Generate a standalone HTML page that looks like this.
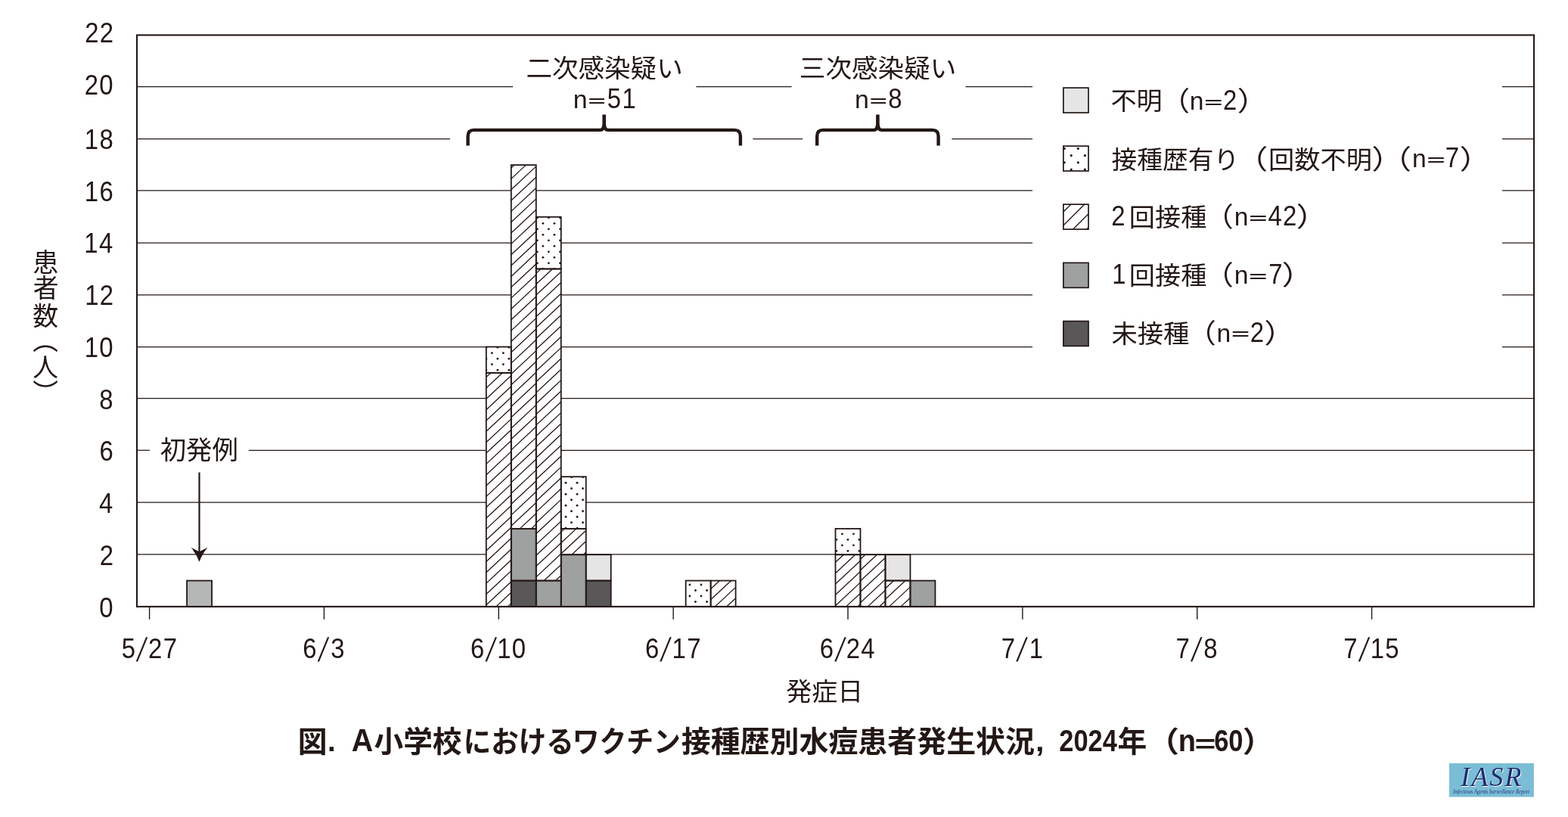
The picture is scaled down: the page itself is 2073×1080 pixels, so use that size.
<!DOCTYPE html>
<html lang="ja"><head><meta charset="utf-8"><title>図. A小学校におけるワクチン接種歴別水痘患者発生状況, 2024年</title>
<style>html,body{margin:0;padding:0;background:#fff}svg{display:block}text{font-family:"Liberation Sans","Noto Sans CJK JP",sans-serif;fill:#231815}.l{font-family:"Liberation Sans",sans-serif}</style></head><body>
<svg width="2073" height="1080" viewBox="0 0 2073 1080">
<rect width="2073" height="1080" fill="#fff"/>
<g id="grid" stroke="#231815" stroke-width="1.25">
<line x1="181.0" y1="114.60" x2="678.1" y2="114.60"/>
<line x1="920.3" y1="114.60" x2="1046.6" y2="114.60"/>
<line x1="1276.6" y1="114.60" x2="1365.0" y2="114.60"/>
<line x1="1986.0" y1="114.60" x2="2028.0" y2="114.60"/>
<line x1="181.0" y1="183.50" x2="595.0" y2="183.50"/>
<line x1="995.4" y1="183.50" x2="1061.0" y2="183.50"/>
<line x1="1258.4" y1="183.50" x2="1365.0" y2="183.50"/>
<line x1="1986.0" y1="183.50" x2="2028.0" y2="183.50"/>
<line x1="181.0" y1="251.90" x2="1365.0" y2="251.90"/>
<line x1="1986.0" y1="251.90" x2="2028.0" y2="251.90"/>
<line x1="181.0" y1="321.00" x2="1365.0" y2="321.00"/>
<line x1="1986.0" y1="321.00" x2="2028.0" y2="321.00"/>
<line x1="181.0" y1="389.75" x2="1365.0" y2="389.75"/>
<line x1="1986.0" y1="389.75" x2="2028.0" y2="389.75"/>
<line x1="181.0" y1="458.50" x2="1365.0" y2="458.50"/>
<line x1="1986.0" y1="458.50" x2="2028.0" y2="458.50"/>
<line x1="181.0" y1="526.60" x2="2028.0" y2="526.60"/>
<line x1="181.0" y1="595.25" x2="198.0" y2="595.25"/>
<line x1="328.8" y1="595.25" x2="2028.0" y2="595.25"/>
<line x1="181.0" y1="664.00" x2="2028.0" y2="664.00"/>
<line x1="181.0" y1="732.75" x2="2028.0" y2="732.75"/>
</g>
<g id="bars">
<rect x="247.07" y="767.56" width="32.98" height="34.34" fill="#b5b6b6"/>
<rect x="642.81" y="492.84" width="32.98" height="309.06" fill="#fff"/>
<rect x="642.81" y="458.50" width="32.98" height="34.34" fill="#fff"/>
<clipPath id="c1"><rect x="642.81" y="458.50" width="32.98" height="34.34"/></clipPath><g clip-path="url(#c1)" fill="#231815"><circle cx="650.35" cy="466.70" r="1.4"/><circle cx="650.35" cy="481.70" r="1.4"/><circle cx="665.40" cy="466.70" r="1.4"/><circle cx="665.40" cy="481.70" r="1.4"/><circle cx="642.83" cy="459.20" r="1.4"/><circle cx="642.83" cy="474.20" r="1.4"/><circle cx="642.83" cy="489.20" r="1.4"/><circle cx="657.88" cy="459.20" r="1.4"/><circle cx="657.88" cy="474.20" r="1.4"/><circle cx="657.88" cy="489.20" r="1.4"/><circle cx="672.92" cy="459.20" r="1.4"/><circle cx="672.92" cy="474.20" r="1.4"/><circle cx="672.92" cy="489.20" r="1.4"/></g>
<rect x="675.79" y="767.56" width="32.98" height="34.34" fill="#595757"/>
<rect x="675.79" y="698.88" width="32.98" height="68.68" fill="#9fa0a0"/>
<rect x="675.79" y="218.12" width="32.98" height="480.76" fill="#fff"/>
<rect x="708.77" y="767.56" width="32.98" height="34.34" fill="#9fa0a0"/>
<rect x="708.77" y="355.48" width="32.98" height="412.08" fill="#fff"/>
<rect x="708.77" y="286.80" width="32.98" height="68.68" fill="#fff"/>
<clipPath id="c2"><rect x="708.77" y="286.80" width="32.98" height="68.68"/></clipPath><g clip-path="url(#c2)" fill="#231815"><circle cx="710.35" cy="287.80" r="1.4"/><circle cx="710.35" cy="302.80" r="1.4"/><circle cx="710.35" cy="317.80" r="1.4"/><circle cx="710.35" cy="332.80" r="1.4"/><circle cx="710.35" cy="347.80" r="1.4"/><circle cx="725.40" cy="287.80" r="1.4"/><circle cx="725.40" cy="302.80" r="1.4"/><circle cx="725.40" cy="317.80" r="1.4"/><circle cx="725.40" cy="332.80" r="1.4"/><circle cx="725.40" cy="347.80" r="1.4"/><circle cx="740.45" cy="287.80" r="1.4"/><circle cx="740.45" cy="302.80" r="1.4"/><circle cx="740.45" cy="317.80" r="1.4"/><circle cx="740.45" cy="332.80" r="1.4"/><circle cx="740.45" cy="347.80" r="1.4"/><circle cx="717.88" cy="295.30" r="1.4"/><circle cx="717.88" cy="310.30" r="1.4"/><circle cx="717.88" cy="325.30" r="1.4"/><circle cx="717.88" cy="340.30" r="1.4"/><circle cx="717.88" cy="355.30" r="1.4"/><circle cx="732.92" cy="295.30" r="1.4"/><circle cx="732.92" cy="310.30" r="1.4"/><circle cx="732.92" cy="325.30" r="1.4"/><circle cx="732.92" cy="340.30" r="1.4"/><circle cx="732.92" cy="355.30" r="1.4"/></g>
<rect x="741.75" y="733.22" width="32.98" height="68.68" fill="#9fa0a0"/>
<rect x="741.75" y="698.88" width="32.98" height="34.34" fill="#fff"/>
<rect x="741.75" y="630.20" width="32.98" height="68.68" fill="#fff"/>
<clipPath id="c3"><rect x="741.75" y="630.20" width="32.98" height="68.68"/></clipPath><g clip-path="url(#c3)" fill="#231815"><circle cx="748.00" cy="638.25" r="1.4"/><circle cx="748.00" cy="653.25" r="1.4"/><circle cx="748.00" cy="668.25" r="1.4"/><circle cx="748.00" cy="683.25" r="1.4"/><circle cx="748.00" cy="698.25" r="1.4"/><circle cx="763.05" cy="638.25" r="1.4"/><circle cx="763.05" cy="653.25" r="1.4"/><circle cx="763.05" cy="668.25" r="1.4"/><circle cx="763.05" cy="683.25" r="1.4"/><circle cx="763.05" cy="698.25" r="1.4"/><circle cx="740.48" cy="630.75" r="1.4"/><circle cx="740.48" cy="645.75" r="1.4"/><circle cx="740.48" cy="660.75" r="1.4"/><circle cx="740.48" cy="675.75" r="1.4"/><circle cx="740.48" cy="690.75" r="1.4"/><circle cx="755.52" cy="630.75" r="1.4"/><circle cx="755.52" cy="645.75" r="1.4"/><circle cx="755.52" cy="660.75" r="1.4"/><circle cx="755.52" cy="675.75" r="1.4"/><circle cx="755.52" cy="690.75" r="1.4"/><circle cx="770.57" cy="630.75" r="1.4"/><circle cx="770.57" cy="645.75" r="1.4"/><circle cx="770.57" cy="660.75" r="1.4"/><circle cx="770.57" cy="675.75" r="1.4"/><circle cx="770.57" cy="690.75" r="1.4"/></g>
<rect x="774.73" y="767.56" width="32.98" height="34.34" fill="#595757"/>
<rect x="774.73" y="733.22" width="32.98" height="34.34" fill="#e5e5e5"/>
<rect x="906.64" y="767.56" width="32.98" height="34.34" fill="#fff"/>
<clipPath id="c4"><rect x="906.64" y="767.56" width="32.98" height="34.34"/></clipPath><g clip-path="url(#c4)" fill="#231815"><circle cx="911.94" cy="773.00" r="1.4"/><circle cx="911.94" cy="788.00" r="1.4"/><circle cx="911.94" cy="803.00" r="1.4"/><circle cx="926.99" cy="773.00" r="1.4"/><circle cx="926.99" cy="788.00" r="1.4"/><circle cx="926.99" cy="803.00" r="1.4"/><circle cx="919.47" cy="780.50" r="1.4"/><circle cx="919.47" cy="795.50" r="1.4"/><circle cx="934.51" cy="780.50" r="1.4"/><circle cx="934.51" cy="795.50" r="1.4"/></g>
<rect x="939.62" y="767.56" width="32.98" height="34.34" fill="#fff"/>
<rect x="1104.51" y="733.22" width="32.98" height="68.68" fill="#fff"/>
<rect x="1104.51" y="698.88" width="32.98" height="34.34" fill="#fff"/>
<clipPath id="c5"><rect x="1104.51" y="698.88" width="32.98" height="34.34"/></clipPath><g clip-path="url(#c5)" fill="#231815"><circle cx="1113.40" cy="705.80" r="1.4"/><circle cx="1113.40" cy="720.80" r="1.4"/><circle cx="1128.45" cy="705.80" r="1.4"/><circle cx="1128.45" cy="720.80" r="1.4"/><circle cx="1105.88" cy="698.30" r="1.4"/><circle cx="1105.88" cy="713.30" r="1.4"/><circle cx="1105.88" cy="728.30" r="1.4"/><circle cx="1120.93" cy="698.30" r="1.4"/><circle cx="1120.93" cy="713.30" r="1.4"/><circle cx="1120.93" cy="728.30" r="1.4"/><circle cx="1135.98" cy="698.30" r="1.4"/><circle cx="1135.98" cy="713.30" r="1.4"/><circle cx="1135.98" cy="728.30" r="1.4"/></g>
<rect x="1137.49" y="733.22" width="32.98" height="68.68" fill="#fff"/>
<rect x="1170.47" y="767.56" width="32.98" height="34.34" fill="#fff"/>
<rect x="1170.47" y="733.22" width="32.98" height="34.34" fill="#e5e5e5"/>
<rect x="1203.45" y="767.56" width="32.98" height="34.34" fill="#9fa0a0"/>
<path d="M642.81,498.64L649.01,492.84M642.81,512.98L664.35,492.84M642.81,527.32L675.79,496.49M642.81,541.66L675.79,510.83M642.81,556.00L675.79,525.17M642.81,570.34L675.79,539.51M642.81,584.68L675.79,553.85M642.81,599.02L675.79,568.19M642.81,613.36L675.79,582.53M642.81,627.70L675.79,596.87M642.81,642.04L675.79,611.21M642.81,656.38L675.79,625.55M642.81,670.72L675.79,639.89M642.81,685.06L675.79,654.23M642.81,699.40L675.79,668.57M642.81,713.74L675.79,682.91M642.81,728.08L675.79,697.25M642.81,742.42L675.79,711.59M642.81,756.76L675.79,725.93M642.81,771.10L675.79,740.27M642.81,785.44L675.79,754.61M642.81,799.78L675.79,768.95M655.88,801.90L675.79,783.29M671.22,801.90L675.79,797.63M675.79,222.02L679.96,218.12M675.79,236.36L695.30,218.12M675.79,250.70L708.77,219.87M675.79,265.04L708.77,234.21M675.79,279.38L708.77,248.55M675.79,293.72L708.77,262.89M675.79,308.06L708.77,277.23M675.79,322.40L708.77,291.57M675.79,336.74L708.77,305.91M675.79,351.08L708.77,320.25M675.79,365.42L708.77,334.59M675.79,379.76L708.77,348.93M675.79,394.10L708.77,363.27M675.79,408.44L708.77,377.61M675.79,422.78L708.77,391.95M675.79,437.12L708.77,406.29M675.79,451.46L708.77,420.63M675.79,465.80L708.77,434.97M675.79,480.14L708.77,449.31M675.79,494.48L708.77,463.65M675.79,508.82L708.77,477.99M675.79,523.16L708.77,492.33M675.79,537.50L708.77,506.67M675.79,551.84L708.77,521.01M675.79,566.18L708.77,535.35M675.79,580.52L708.77,549.69M675.79,594.86L708.77,564.03M675.79,609.20L708.77,578.37M675.79,623.54L708.77,592.71M675.79,637.88L708.77,607.05M675.79,652.22L708.77,621.39M675.79,666.56L708.77,635.73M675.79,680.90L708.77,650.07M675.79,695.24L708.77,664.41M687.23,698.88L708.77,678.75M702.57,698.88L708.77,693.09M708.77,361.38L715.08,355.48M708.77,375.72L730.41,355.48M708.77,390.06L741.75,359.23M708.77,404.40L741.75,373.57M708.77,418.74L741.75,387.91M708.77,433.08L741.75,402.25M708.77,447.42L741.75,416.59M708.77,461.76L741.75,430.93M708.77,476.10L741.75,445.27M708.77,490.44L741.75,459.61M708.77,504.78L741.75,473.95M708.77,519.12L741.75,488.29M708.77,533.46L741.75,502.63M708.77,547.80L741.75,516.97M708.77,562.14L741.75,531.31M708.77,576.48L741.75,545.65M708.77,590.82L741.75,559.99M708.77,605.16L741.75,574.33M708.77,619.50L741.75,588.67M708.77,633.84L741.75,603.01M708.77,648.18L741.75,617.35M708.77,662.52L741.75,631.69M708.77,676.86L741.75,646.03M708.77,691.20L741.75,660.37M708.77,705.54L741.75,674.71M708.77,719.88L741.75,689.05M708.77,734.22L741.75,703.39M708.77,748.56L741.75,717.73M708.77,762.90L741.75,732.07M719.12,767.56L741.75,746.41M734.46,767.56L741.75,760.75M741.75,703.36L746.54,698.88M741.75,717.70L761.87,698.88M741.75,732.04L774.73,701.21M755.82,733.22L774.73,715.55M771.16,733.22L774.73,729.89M939.62,778.50L951.32,767.56M939.62,792.84L966.66,767.56M945.26,801.90L972.60,776.35M960.60,801.90L972.60,790.69M1104.51,743.32L1115.31,733.22M1104.51,757.66L1130.65,733.22M1104.51,772.00L1137.49,741.17M1104.51,786.34L1137.49,755.51M1104.51,800.68L1137.49,769.85M1118.54,801.90L1137.49,784.19M1133.88,801.90L1137.49,798.53M1137.49,739.32L1144.01,733.22M1137.49,753.66L1159.35,733.22M1137.49,768.00L1170.47,737.17M1137.49,782.34L1170.47,751.51M1137.49,796.68L1170.47,765.85M1147.24,801.90L1170.47,780.19M1162.58,801.90L1170.47,794.53M1170.47,778.00L1181.63,767.56M1170.47,792.34L1196.97,767.56M1175.58,801.90L1203.45,775.85M1190.92,801.90L1203.45,790.19" stroke="#231815" stroke-width="1.3" fill="none"/>
<g fill="none" stroke="#231815" stroke-width="1.8">
<rect x="247.07" y="767.56" width="32.98" height="34.34"/>
<rect x="642.81" y="492.84" width="32.98" height="309.06"/>
<rect x="642.81" y="458.50" width="32.98" height="34.34"/>
<rect x="675.79" y="767.56" width="32.98" height="34.34"/>
<rect x="675.79" y="698.88" width="32.98" height="68.68"/>
<rect x="675.79" y="218.12" width="32.98" height="480.76"/>
<rect x="708.77" y="767.56" width="32.98" height="34.34"/>
<rect x="708.77" y="355.48" width="32.98" height="412.08"/>
<rect x="708.77" y="286.80" width="32.98" height="68.68"/>
<rect x="741.75" y="733.22" width="32.98" height="68.68"/>
<rect x="741.75" y="698.88" width="32.98" height="34.34"/>
<rect x="741.75" y="630.20" width="32.98" height="68.68"/>
<rect x="774.73" y="767.56" width="32.98" height="34.34"/>
<rect x="774.73" y="733.22" width="32.98" height="34.34"/>
<rect x="906.64" y="767.56" width="32.98" height="34.34"/>
<rect x="939.62" y="767.56" width="32.98" height="34.34"/>
<rect x="1104.51" y="733.22" width="32.98" height="68.68"/>
<rect x="1104.51" y="698.88" width="32.98" height="34.34"/>
<rect x="1137.49" y="733.22" width="32.98" height="68.68"/>
<rect x="1170.47" y="767.56" width="32.98" height="34.34"/>
<rect x="1170.47" y="733.22" width="32.98" height="34.34"/>
<rect x="1203.45" y="767.56" width="32.98" height="34.34"/>
</g></g>
<rect x="181" y="46.4" width="1847" height="755.50" fill="none" stroke="#231815" stroke-width="2.1"/>
<g stroke="#231815" stroke-width="1.4">
<line x1="197.60" y1="802" x2="197.60" y2="818.75"/>
<line x1="428.45" y1="802" x2="428.45" y2="818.75"/>
<line x1="659.30" y1="802" x2="659.30" y2="818.75"/>
<line x1="890.15" y1="802" x2="890.15" y2="818.75"/>
<line x1="1121.00" y1="802" x2="1121.00" y2="818.75"/>
<line x1="1351.85" y1="802" x2="1351.85" y2="818.75"/>
<line x1="1582.70" y1="802" x2="1582.70" y2="818.75"/>
<line x1="1813.55" y1="802" x2="1813.55" y2="818.75"/>
</g>
<g id="ylab">
<text class="l" transform="translate(131.37,815.60) scale(0.8850,1)" font-size="37.14" >0</text>
<text class="l" transform="translate(131.70,746.86) scale(0.8850,1)" font-size="37.14" >2</text>
<text class="l" transform="translate(131.04,678.12) scale(0.8850,1)" font-size="37.14" >4</text>
<text class="l" transform="translate(131.54,609.38) scale(0.8850,1)" font-size="37.14" >6</text>
<text class="l" transform="translate(131.37,540.64) scale(0.8850,1)" font-size="37.14" >8</text>
<text class="l" transform="translate(111.65,471.90) scale(0.8850,1)" font-size="37.14" letter-spacing="1.5">10</text>
<text class="l" transform="translate(112.14,403.16) scale(0.8850,1)" font-size="37.14" letter-spacing="1.5">12</text>
<text class="l" transform="translate(111.32,334.42) scale(0.8850,1)" font-size="37.14" letter-spacing="1.5">14</text>
<text class="l" transform="translate(111.81,265.68) scale(0.8850,1)" font-size="37.14" letter-spacing="1.5">16</text>
<text class="l" transform="translate(111.81,196.94) scale(0.8850,1)" font-size="37.14" letter-spacing="1.5">18</text>
<text class="l" transform="translate(111.65,125.00) scale(0.8850,1)" font-size="37.14" letter-spacing="1.5">20</text>
<text class="l" transform="translate(112.14,56.20) scale(0.8850,1)" font-size="37.14" letter-spacing="1.5">22</text>
</g>
<g id="xlab">
<text class="l" transform="translate(160.66,869.60) scale(0.8850,1)" font-size="37.14" >5</text><text class="l" transform="translate(179.77,873.56) skewX(-12.63) scale(0.7,1)" font-size="43.67">/</text><text class="l" transform="translate(196.07,869.60) scale(0.8850,1)" font-size="37.14" letter-spacing="1.5">27</text>
<text class="l" transform="translate(400.36,869.60) scale(0.8850,1)" font-size="37.14" >6</text><text class="l" transform="translate(419.80,873.56) skewX(-12.63) scale(0.7,1)" font-size="43.67">/</text><text class="l" transform="translate(437.14,869.60) scale(0.8850,1)" font-size="37.14" >3</text>
<text class="l" transform="translate(622.03,869.60) scale(0.8850,1)" font-size="37.14" >6</text><text class="l" transform="translate(641.47,873.56) skewX(-12.63) scale(0.7,1)" font-size="43.67">/</text><text class="l" transform="translate(657.27,869.60) scale(0.8850,1)" font-size="37.14" letter-spacing="1.5">10</text>
<text class="l" transform="translate(852.88,869.60) scale(0.8850,1)" font-size="37.14" >6</text><text class="l" transform="translate(872.32,873.56) skewX(-12.63) scale(0.7,1)" font-size="43.67">/</text><text class="l" transform="translate(888.62,869.60) scale(0.8850,1)" font-size="37.14" letter-spacing="1.5">17</text>
<text class="l" transform="translate(1083.73,869.60) scale(0.8850,1)" font-size="37.14" >6</text><text class="l" transform="translate(1103.17,873.56) skewX(-12.63) scale(0.7,1)" font-size="43.67">/</text><text class="l" transform="translate(1118.64,869.60) scale(0.8850,1)" font-size="37.14" letter-spacing="1.5">24</text>
<text class="l" transform="translate(1323.76,869.60) scale(0.8850,1)" font-size="37.14" >7</text><text class="l" transform="translate(1343.20,873.56) skewX(-12.63) scale(0.7,1)" font-size="43.67">/</text><text class="l" transform="translate(1360.70,869.60) scale(0.8850,1)" font-size="37.14" >1</text>
<text class="l" transform="translate(1554.61,869.60) scale(0.8850,1)" font-size="37.14" >7</text><text class="l" transform="translate(1574.05,873.56) skewX(-12.63) scale(0.7,1)" font-size="43.67">/</text><text class="l" transform="translate(1591.22,869.60) scale(0.8850,1)" font-size="37.14" >8</text>
<text class="l" transform="translate(1776.28,869.60) scale(0.8850,1)" font-size="37.14" >7</text><text class="l" transform="translate(1795.72,873.56) skewX(-12.63) scale(0.7,1)" font-size="43.67">/</text><text class="l" transform="translate(1811.69,869.60) scale(0.8850,1)" font-size="37.14" letter-spacing="1.5">15</text>
</g>
<g id="annot">
<text transform="translate(211.64,607.13) scale(1.0189,1)" font-size="33.78" >初発例</text>
<text transform="translate(695.50,101.95) scale(1.0319,1)" font-size="33.48" >二次感染疑い</text>
<text transform="translate(1056.85,101.95) scale(1.0337,1)" font-size="33.48" >三次感染疑い</text>
<text class="l" transform="translate(757.70,142.90) scale(0.9122,0.9024)" font-size="37.14" >n</text><text class="l" transform="translate(777.52,139.76) scale(1.0609,0.5030)" font-size="37.14" font-weight="700" >=</text><text class="l" transform="translate(802.79,142.90) scale(0.8850,1)" font-size="37.14" letter-spacing="1.5">51</text>
<text class="l" transform="translate(1130.00,142.90) scale(0.9122,0.9024)" font-size="37.14" >n</text><text class="l" transform="translate(1149.82,139.76) scale(1.0609,0.5030)" font-size="37.14" font-weight="700" >=</text><text class="l" transform="translate(1174.32,142.90) scale(0.8850,1)" font-size="37.14" >8</text>
<text transform="translate(1039.28,926.27) scale(1.0200,1)" font-size="33.30" >発症日</text>
<text x="43.43" y="359.21" font-size="33.8">患</text><text x="43.69" y="393.34" font-size="33.8">者</text><text x="43.27" y="429.54" font-size="33.8">数</text><text transform="translate(47.41,432.90) rotate(90)" font-size="33.8">（</text><text x="43.27" y="497.71" font-size="33.8">人</text><text transform="translate(47.41,501.60) rotate(90)" font-size="33.8">）</text>
<path d="M618.60,192.4 V179.90 Q618.60,171.9 626.60,171.9 H793.70 Q798.00,171.9 798.60,163.90 V153.6 H798.80 V163.90 Q799.40,171.9 803.70,171.9 H970.90 Q978.90,171.9 978.90,179.90 V192.4" fill="none" stroke="#231815" stroke-width="4.4" stroke-linejoin="miter"/>
<path d="M1080.20,192.4 V179.90 Q1080.20,171.9 1088.20,171.9 H1155.40 Q1159.70,171.9 1160.30,163.90 V153.6 H1160.50 V163.90 Q1161.10,171.9 1165.40,171.9 H1232.60 Q1240.60,171.9 1240.60,179.90 V192.4" fill="none" stroke="#231815" stroke-width="4.4" stroke-linejoin="miter"/>
<line x1="263.5" y1="624.5" x2="263.5" y2="733" stroke="#231815" stroke-width="2.2"/>
<path d="M263.5,742.8 Q259.5,732 252.6,723.8 L263.5,729.3 L274.4,723.8 Q267.5,732 263.5,742.8 Z" fill="#231815"/>
</g>
<g id="legend">
<rect x="1405.85" y="116.10" width="33.15" height="32.90" fill="#e5e5e5"/>
<rect x="1405.85" y="116.10" width="33.15" height="32.90" fill="none" stroke="#231815" stroke-width="1.7"/>
<rect x="1405.85" y="193.10" width="33.15" height="32.90" fill="#fff"/>
<clipPath id="c6"><rect x="1405.85" y="193.10" width="33.15" height="32.90"/></clipPath><g clip-path="url(#c6)" fill="#231815"><circle cx="1416.25" cy="205.60" r="1.6"/><circle cx="1416.25" cy="224.10" r="1.6"/><circle cx="1434.35" cy="205.60" r="1.6"/><circle cx="1434.35" cy="224.10" r="1.6"/><circle cx="1407.20" cy="196.35" r="1.6"/><circle cx="1407.20" cy="214.85" r="1.6"/><circle cx="1425.30" cy="196.35" r="1.6"/><circle cx="1425.30" cy="214.85" r="1.6"/></g>
<rect x="1405.85" y="193.10" width="33.15" height="32.90" fill="none" stroke="#231815" stroke-width="1.7"/>
<rect x="1405.85" y="270.15" width="33.15" height="32.90" fill="#fff"/>
<path d="M1405.85,280.10L1415.80,270.15M1405.85,298.00L1433.70,270.15M1418.70,303.05L1439.00,282.75M1436.60,303.05L1439.00,300.65" stroke="#231815" stroke-width="1.35" fill="none"/>
<rect x="1405.85" y="270.15" width="33.15" height="32.90" fill="none" stroke="#231815" stroke-width="1.7"/>
<rect x="1405.85" y="347.40" width="33.15" height="32.90" fill="#9fa0a0"/>
<rect x="1405.85" y="347.40" width="33.15" height="32.90" fill="none" stroke="#231815" stroke-width="1.7"/>
<rect x="1405.85" y="424.55" width="33.15" height="32.90" fill="#595757"/>
<rect x="1405.85" y="424.55" width="33.15" height="32.90" fill="none" stroke="#231815" stroke-width="1.7"/>
<text transform="translate(1468.46,145.33) scale(1.0260,1)" font-size="33.30" >不明</text><text transform="translate(1534.00,146.38) scale(1.1038,1)" font-size="35.53" >（</text><text class="l" transform="translate(1572.81,144.75) scale(0.9059,0.9024)" font-size="37.14" >n</text><text class="l" transform="translate(1592.25,141.61) scale(1.1089,0.5030)" font-size="37.14" font-weight="700" >=</text><text class="l" transform="translate(1617.11,144.75) scale(0.8850,1)" font-size="37.14" >2</text><text transform="translate(1635.42,146.38) scale(1.1701,1)" font-size="35.53" >）</text>
<text transform="translate(1469.59,222.63) scale(1.0135,1)" font-size="33.30" >接種歴有り</text><text transform="translate(1633.96,222.93) scale(1.1922,1)" font-size="35.53" >（</text><text transform="translate(1676.96,222.63) scale(1.0288,1)" font-size="33.30" >回数不明</text><text transform="translate(1813.28,222.93) scale(1.1922,1)" font-size="35.53" >）</text><text transform="translate(1823.66,222.93) scale(1.1922,1)" font-size="35.53" >（</text><text class="l" transform="translate(1867.11,221.30) scale(0.9059,0.9024)" font-size="37.14" >n</text><text class="l" transform="translate(1886.55,218.16) scale(1.1089,0.5030)" font-size="37.14" font-weight="700" >=</text><text class="l" transform="translate(1910.76,221.30) scale(0.8850,1)" font-size="37.14" >7</text><text transform="translate(1929.48,222.93) scale(1.1922,1)" font-size="35.53" >）</text>
<text class="l" transform="translate(1469.36,297.80) scale(0.8850,1)" font-size="37.14" >2</text><text transform="translate(1492.87,299.13) scale(1.0253,1)" font-size="33.30" >回接種</text><text transform="translate(1591.75,299.43) scale(1.1038,1)" font-size="35.53" >（</text><text class="l" transform="translate(1631.81,297.80) scale(0.9059,0.9024)" font-size="37.14" >n</text><text class="l" transform="translate(1651.25,294.66) scale(1.1089,0.5030)" font-size="37.14" font-weight="700" >=</text><text class="l" transform="translate(1676.38,297.80) scale(0.8850,1)" font-size="37.14" letter-spacing="1.5">42</text><text transform="translate(1713.46,299.43) scale(1.2032,1)" font-size="35.53" >）</text>
<text class="l" transform="translate(1470.23,374.80) scale(0.8850,1)" font-size="37.14" >1</text><text transform="translate(1492.87,376.13) scale(1.0253,1)" font-size="33.30" >回接種</text><text transform="translate(1591.75,376.43) scale(1.1038,1)" font-size="35.53" >（</text><text class="l" transform="translate(1631.81,374.80) scale(0.9059,0.9024)" font-size="37.14" >n</text><text class="l" transform="translate(1651.25,371.66) scale(1.1089,0.5030)" font-size="37.14" font-weight="700" >=</text><text class="l" transform="translate(1677.16,374.80) scale(0.8850,1)" font-size="37.14" >7</text><text transform="translate(1694.56,376.43) scale(1.2032,1)" font-size="35.53" >）</text>
<text transform="translate(1469.50,452.83) scale(1.0300,1)" font-size="33.30" >未接種</text><text transform="translate(1568.85,453.12) scale(1.1038,1)" font-size="35.53" >（</text><text class="l" transform="translate(1608.51,451.50) scale(0.9059,0.9024)" font-size="37.14" >n</text><text class="l" transform="translate(1627.95,448.36) scale(1.1089,0.5030)" font-size="37.14" font-weight="700" >=</text><text class="l" transform="translate(1652.86,451.50) scale(0.8850,1)" font-size="37.14" >2</text><text transform="translate(1671.14,453.12) scale(1.1590,1)" font-size="35.53" >）</text>
</g>
<g id="caption">
<text transform="translate(393.69,993.66) scale(1.0174,1)" font-size="38.17" font-weight="700" >図</text><text class="l" transform="translate(432.90,993.20) scale(1.0150,1)" font-size="38.00" font-weight="700" >.</text><text class="l" transform="translate(464.71,993.20) scale(0.9408,1)" font-size="41.88" font-weight="700" >A</text><text transform="translate(494.43,993.66) scale(1.0143,1)" font-size="38.17" font-weight="700" >小学校</text><text transform="translate(612.85,993.66) scale(0.9565,1)" font-size="38.17" font-weight="700" >における</text><text transform="translate(756.67,993.66) scale(0.9372,1)" font-size="38.17" font-weight="700" >ワクチン</text><text transform="translate(900.72,993.66) scale(1.0206,1)" font-size="38.17" font-weight="700" >接種歴別水痘患者発生状況</text><text class="l" transform="translate(1369.10,993.20) scale(1.0902,1)" font-size="38.00" font-weight="700" >,</text><text class="l" transform="translate(1400.29,993.00) scale(0.8585,1)" font-size="40.14" font-weight="700" >2024</text><text transform="translate(1477.55,993.66) scale(1.0167,1)" font-size="38.17" font-weight="700" >年</text><text transform="translate(1516.04,993.66) scale(1.1293,1)" font-size="38.17" font-weight="700" >（</text><text class="l" transform="translate(1557.63,993.20) scale(0.9485,1)" font-size="40.00" font-weight="700" >n</text><text class="l" transform="translate(1579.49,995.07) scale(1.1931,0.8224)" font-size="40.00" font-weight="700" >=</text><text class="l" transform="translate(1605.19,993.00) scale(0.8593,1)" font-size="40.14" font-weight="700" >60</text><text transform="translate(1642.85,993.66) scale(1.0751,1)" font-size="38.17" font-weight="700" >）</text>
</g>
<g id="logo">
<rect x="1915.9" y="1009" width="112" height="44.5" fill="#7bbdd6"/>
<text transform="translate(1931.28,1039.40) scale(0.9735,1)" font-size="36.67" font-style="italic" letter-spacing="2.29" style="font-family:'Liberation Serif',serif;fill:#1f2a6e;filter:drop-shadow(1.7px 1px 0 #fff)">IASR</text>
<text x="1971.6" y="1049.2" text-anchor="middle" font-size="7.6" font-style="italic" style="font-family:'Liberation Serif',serif;fill:#27357e" textLength="101" lengthAdjust="spacingAndGlyphs">Infectious Agents Surveillance Report</text>
</g>
</svg></body></html>
